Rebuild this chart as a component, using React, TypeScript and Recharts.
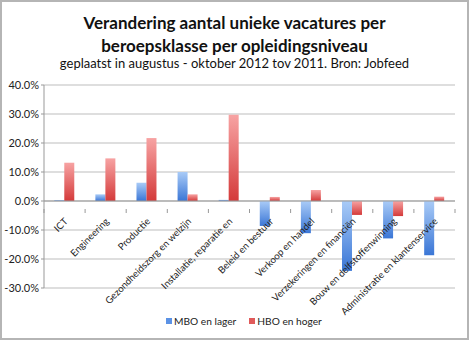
import React from "react";
import { BarChart, Bar, XAxis, YAxis, CartesianGrid, ReferenceLine } from "recharts";

const categories = [
  "ICT",
  "Engineering",
  "Productie",
  "Gezondheidszorg en welzijn",
  "Installatie, reparatie en",
  "Beleid en bestuur",
  "Verkoop en handel",
  "Verzekeringen en financiën",
  "Bouw en delfstoffenwinning",
  "Administratie en klantenservice",
];
const mboValues = [0.3, 2.3, 6.3, 10.0, 0.4, -8.6, -11.1, -24.1, -12.9, -18.7];
const hboValues = [13.2, 14.7, 21.7, 2.3, 29.7, 1.4, 3.8, -4.8, -5.2, 1.5];
const yTicks = [-30, -20, -10, 0, 10, 20, 30, 40];

const data = categories.map((name, i) => ({ name, mbo: mboValues[i], hbo: hboValues[i] }));

const FONT = "Lato, 'Open Sans', sans-serif";
const W = 469;
const H = 340;
const M = { top: 85, right: 14, bottom: 51, left: 0 };
const Y_W = 44;
// zero line sits this far above the plot bottom
const plotH = H - M.top - M.bottom - 1;
const zeroUp = (plotH * 30) / 70;
const band = (W - M.right - Y_W) / categories.length;

const CatTick = (props: any) => {
  const { x, y, payload, index } = props;
  const y0 = y - zeroUp;
  const tx = x + 4;
  const ty = y0 + 13;
  return (
    <g>
      <line x1={x - band / 2} x2={x - band / 2} y1={y0} y2={y0 + 4} stroke="#999" />
      {index === categories.length - 1 && (
        <line x1={x + band / 2} x2={x + band / 2} y1={y0} y2={y0 + 4} stroke="#999" />
      )}
      <text
        x={tx}
        y={ty}
        textAnchor="end"
        transform={`rotate(-45 ${tx} ${ty})`}
        fontSize={9.6}
        fontFamily={FONT}
        fill="#222"
      >
        {payload.value}
      </text>
    </g>
  );
};

const Swatch = ({ color, label }: { color: string; label: string }) => (
  <span style={{ display: "inline-flex", alignItems: "center", marginRight: 13 }}>
    <span style={{ width: 6, height: 6, background: color, marginRight: 2, display: "inline-block" }} />
    {label}
  </span>
);

export default function App() {
  return (
    <div
      style={{
        position: "fixed",
        left: 0,
        top: 0,
        width: W,
        height: H,
        boxSizing: "border-box",
        border: "2px solid #b5b5b5",
        background: "#fff",
        fontFamily: FONT,
      }}
    >
      <div style={{ position: "absolute", top: 9, left: 0, width: W - 4, textAlign: "center", color: "#111" }}>
        <div style={{ fontSize: 17, fontWeight: 700, lineHeight: "23px" }}>
          Verandering aantal unieke vacatures per
        </div>
        <div style={{ fontSize: 17, fontWeight: 700, lineHeight: "23px" }}>
          beroepsklasse per opleidingsniveau
        </div>
        <div style={{ fontSize: 13, lineHeight: "18px", marginTop: -3 }}>
          geplaatst in augustus - oktober 2012 tov 2011. Bron: Jobfeed
        </div>
      </div>
      <div style={{ position: "absolute", left: -2, top: -2 }}>
        <BarChart width={W} height={H} data={data} margin={M} barCategoryGap="25%" barGap={0}>
          <defs>
            <linearGradient id="gBlue" x1="0" y1="0" x2="0" y2="1">
              <stop offset="0%" stopColor="#a9cbf7" />
              <stop offset="100%" stopColor="#3a76d6" />
            </linearGradient>
            <linearGradient id="gRed" x1="0" y1="0" x2="0" y2="1">
              <stop offset="0%" stopColor="#f7a3a3" />
              <stop offset="100%" stopColor="#d43a3a" />
            </linearGradient>
          </defs>
          <CartesianGrid vertical={false} stroke="#bdbdbd" />
          <YAxis
            width={Y_W}
            domain={[-30, 40]}
            ticks={yTicks}
            tickFormatter={(v: number) => `${v.toFixed(1)}%`}
            tick={{ fontSize: 11, fontFamily: FONT, fill: "#222" }}
            axisLine={{ stroke: "#999" }}
            tickLine={{ stroke: "#999" }}
            tickSize={3}
            interval={0}
          />
          <ReferenceLine y={0} stroke="#999" />
          <Bar dataKey="mbo" name="MBO en lager" fill="url(#gBlue)" isAnimationActive={false} />
          <Bar dataKey="hbo" name="HBO en hoger" fill="url(#gRed)" isAnimationActive={false} />
          <XAxis
            dataKey="name"
            height={1}
            axisLine={false}
            tickLine={false}
            interval={0}
            tick={<CatTick />}
            zIndex={1000}
          />
        </BarChart>
      </div>
      <div
        style={{
          position: "absolute",
          top: 313,
          left: 164,
          fontSize: 10.2,
          color: "#222",
          display: "flex",
        }}
      >
        <Swatch color="#5b92e5" label="MBO en lager" />
        <Swatch color="#e05a5a" label="HBO en hoger" />
      </div>
    </div>
  );
}
